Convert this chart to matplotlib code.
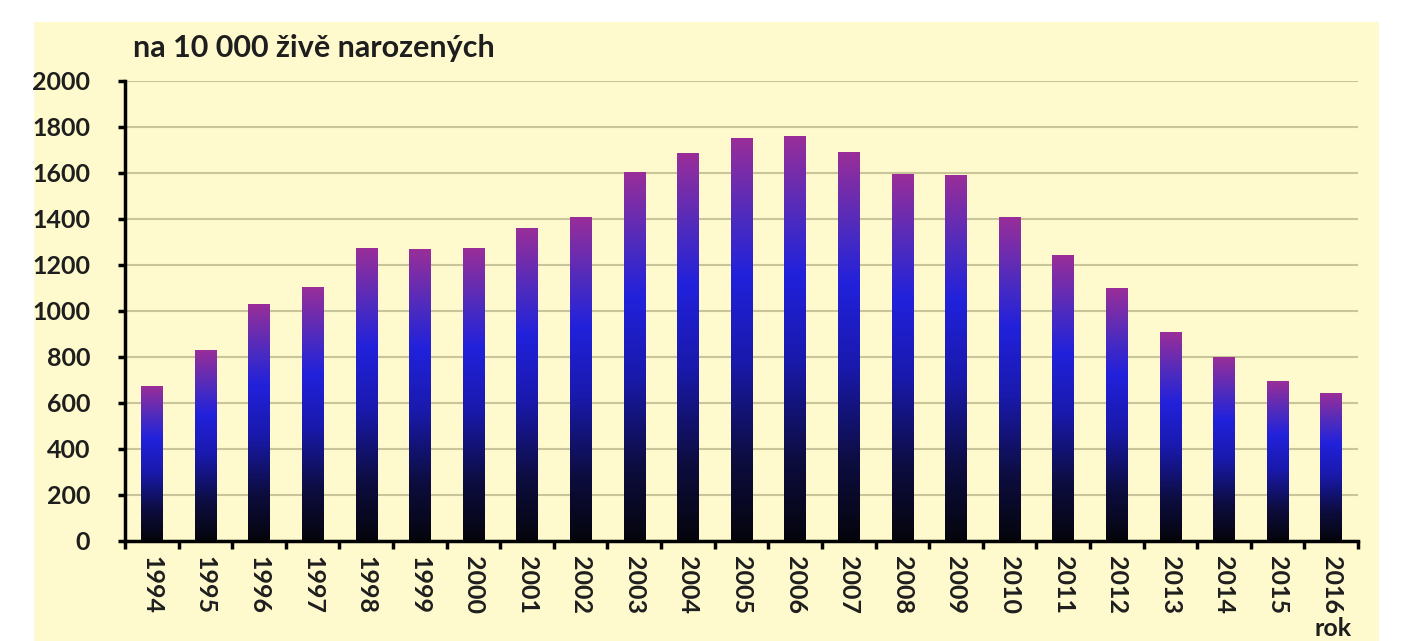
import numpy as np
import matplotlib.pyplot as plt
from matplotlib.colors import LinearSegmentedColormap
from matplotlib.patches import Rectangle

# data
roky = ['1994', '1995', '1996', '1997', '1998', '1999', '2000', '2001', '2002',
        '2003', '2004', '2005', '2006', '2007', '2008', '2009', '2010', '2011',
        '2012', '2013', '2014', '2015', '2016']
hodnoty = [671, 828, 1030, 1103, 1270, 1266, 1270, 1357, 1405,
           1603, 1685, 1750, 1759, 1689, 1594, 1590, 1408, 1242,
           1098, 906, 798, 693, 643]
y_ticks = [0, 200, 400, 600, 800, 1000, 1200, 1400, 1600, 1800, 2000]

plt.rcParams['font.family'] = ['Lato', 'DejaVu Sans']
plt.rcParams['font.weight'] = 'bold'

W, H = 1401, 641
fig = plt.figure(figsize=(W / 100, H / 100), dpi=100)
fig.patch.set_facecolor('white')

# yellow panel behind the chart
fig.patches.append(Rectangle((34 / W, 0), (1379 - 34) / W, (H - 22) / H,
                             transform=fig.transFigure, facecolor='#FFFACD',
                             edgecolor='none', zorder=-10))

ax = fig.add_axes([125 / W, 1 - 541 / H, (1358 - 125) / W, (541 - 81) / H])
ax.set_facecolor('none')
ax.set_zorder(5)

# gradient: black at the bottom, blue in the middle, purple at the top
cmap = LinearSegmentedColormap.from_list('sloupce', [
    (0.0, (0.02, 0.02, 0.05)),
    (0.2, (0.05, 0.05, 0.25)),
    (0.45, (0.10, 0.10, 0.68)),
    (0.66, (0.13, 0.13, 0.86)),
    (0.80, (0.30, 0.17, 0.75)),
    (1.0, (0.60, 0.18, 0.60)),
])
grad = np.linspace(0, 1, 256).reshape(-1, 1)

x = np.arange(len(roky))
sirka = 0.4
bars = ax.bar(x, hodnoty, width=sirka, color='none', zorder=2)
for b, v in zip(bars, hodnoty):
    x0 = b.get_x()
    ax.imshow(grad, cmap=cmap, origin='lower', aspect='auto',
              extent=[x0, x0 + sirka, 0, v], zorder=2, interpolation='bilinear')

ax.set_xlim(-0.5, len(roky) - 0.5)
ax.set_ylim(0, 2000)
ax.set_yticks(y_ticks)
ax.set_yticklabels([str(t) for t in y_ticks], fontsize=18, fontweight='bold',
                   color='#1e1e1e')
ax.yaxis.grid(True, color='#C9C59B', linewidth=1.5, zorder=1)
ax.set_axisbelow(True)

ax.set_xticks(x)
ax.set_xticklabels(roky, rotation=270, fontsize=18, fontweight='bold',
                   color='#1e1e1e', va='top', ha='center')
ax.set_xticks(np.arange(len(roky) + 1) - 0.5, minor=True)
ax.tick_params(axis='x', which='major', length=0, pad=11)
ax.tick_params(axis='x', which='minor', length=6, width=2.5, color='black')
ax.tick_params(axis='y', length=5, width=2.5, color='black', pad=20)

for s in ['top', 'right']:
    ax.spines[s].set_visible(False)
for s in ['left', 'bottom']:
    ax.spines[s].set_linewidth(2.5)
    ax.spines[s].set_color('black')

fig.text(133 / W, 1 - 57 / H, 'na 10 000 živě narozených', fontsize=22,
         fontweight='bold', color='#1e1e1e', va='baseline', ha='left')
fig.text(1333 / W, 1 - 640 / H, 'rok', fontsize=18, fontweight='bold',
         color='#1e1e1e', va='bottom', ha='center')

fig.savefig('out.png', dpi=100, facecolor='white')
